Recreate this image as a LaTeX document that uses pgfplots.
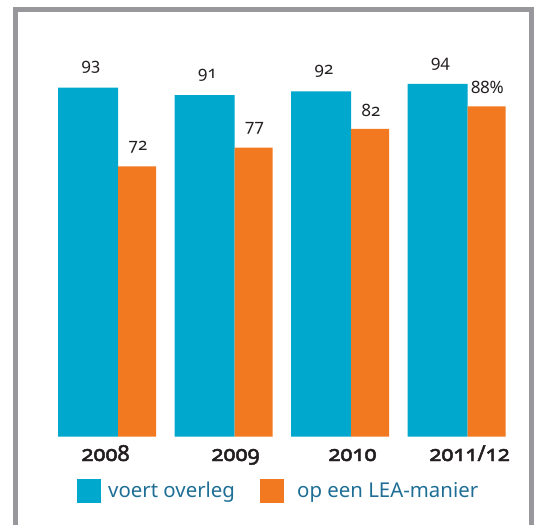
\documentclass[border=0pt]{standalone}
\usepackage{pgfplots}
\pgfplotsset{compat=1.18}
\usepackage{fontspec}
\setmainfont{Noto Sans}[Numbers=OldStyle]
\newfontfamily\yearfont{Noto Sans}[Numbers=OldStyle, FakeBold=2.2]
\definecolor{barblue}{RGB}{0,168,206}
\definecolor{barorange}{RGB}{243,121,32}
\definecolor{framegray}{RGB}{152,152,156}
\definecolor{legtext}{RGB}{30,110,150}
\definecolor{darktext}{RGB}{35,31,32}
\begin{document}
\begin{tikzpicture}[x=1pt,y=1pt]
\path[use as bounding box] (0,0) rectangle (537,525);
\begin{axis}[
  scale only axis,
  width=466pt, height=375pt,
  at={(48.75pt,88.5pt)}, anchor=south west,
  xmin=-0.5, xmax=3.5, ymin=0, ymax=100,
  axis line style={draw=none},
  tick style={draw=none},
  ytick=\empty,
  xtick={-0.013,1.103,2.107,3.112},
  xticklabels={2008,2009,2010,2011/12},
  xticklabel style={font=\fontsize{22}{25}\yearfont, text=darktext, anchor=base, yshift=-24.5pt},
  clip=false,
  point meta=explicit symbolic,
  legend columns=2,
  legend image code/.code={\fill[#1] (0pt,-12pt) rectangle (24pt,12pt);},
  legend style={draw=none, fill=none, at={(0.0606,-0.1453)}, anchor=west, inner sep=0pt,
    nodes={inner sep=0pt, anchor=west, text=legtext, font=\fontsize{20.4}{24}\selectfont},
    /tikz/every odd column/.append style={column sep=7pt},
    /tikz/every even column/.append style={column sep=0pt}},
]
\addplot[ybar, bar width=60pt, bar shift=-19pt, fill=barblue, draw=none,
  nodes near coords={\pgfplotspointmeta},
  nodes near coords style={font=\fontsize{17}{20}\selectfont, text=darktext, anchor=center, xshift=-16pt, yshift=20pt}]
  coordinates {(0,93)[93] (1,91)[91] (2,92)[92] (3,94)[94]};
\addlegendentry{\makebox[152pt][l]{voert overleg}}
\addplot[ybar, bar width=38pt, bar shift=30pt, fill=barorange, draw=none,
  nodes near coords={\pgfplotspointmeta},
  nodes near coords style={font=\fontsize{17}{20}\selectfont, text=darktext, anchor=center, xshift=31pt, yshift=19pt}]
  coordinates {(0,72)[72] (1,77)[77] (2,82)[82] (3,88)[88\%]};
\addlegendentry{\hspace*{6pt}op een LEA-manier}
\end{axis}
\draw[framegray, line width=5pt, line join=miter, line cap=butt] (15.5,0) -- (15.5,515) -- (531.5,515) -- (531.5,0);
\end{tikzpicture}
\end{document}
